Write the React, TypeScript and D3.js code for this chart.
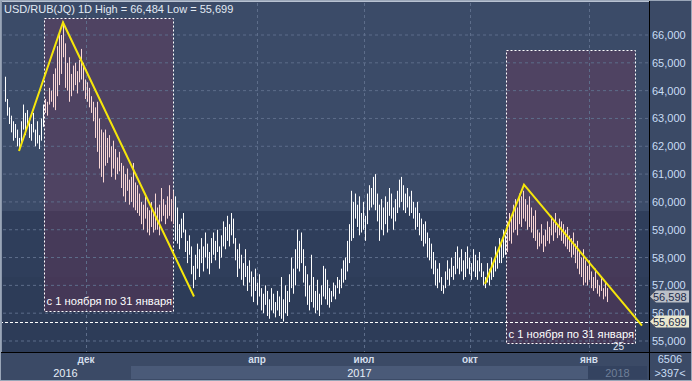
import React from "react";
import * as d3 from "d3";

const highs = [
  64.5, 63.7, 63.4, 63.1, 62.9, 62.8, 62.6, 62.3, 62.9, 63.5, 63.2, 63.3, 63.0, 62.8, 63.2, 62.6, 62.9, 62.4, 63.0, 63.5,
  63.7, 63.6, 64.1, 64.0, 64.6, 64.8, 65.6, 66.1, 66.0, 66.48, 65.7, 65.0, 65.2, 64.6, 64.9, 65.0, 64.7, 65.1, 65.5, 65.0,
  64.4, 64.3, 64.1, 63.8, 63.6, 63.4, 63.6, 63.0, 62.6, 62.5, 62.6, 62.3, 62.4, 62.0, 62.2, 61.9, 61.6, 61.8, 61.4, 61.3,
  61.0, 61.2, 60.8, 60.9, 61.4, 60.7, 60.6, 60.3, 60.0, 59.9, 60.2, 59.8, 59.7, 60.0, 59.6, 60.3, 59.8, 59.9, 60.5, 60.1,
  59.9, 60.2, 60.6, 60.1, 60.4, 60.2, 59.8, 59.2, 59.4, 59.6, 59.0, 58.6, 58.8, 58.4, 57.7, 58.1, 58.5, 58.3, 58.7, 58.4,
  58.9, 58.5, 58.2, 58.7, 58.9, 58.6, 59.0, 58.4, 58.8, 59.3, 59.1, 59.5, 59.2, 59.6, 59.4, 58.7, 58.3, 58.5, 58.1, 57.8,
  58.3, 57.7, 57.9, 57.5, 57.3, 57.6, 57.1, 57.4, 56.9, 56.7, 57.0, 56.8, 56.5, 56.9, 56.7, 56.4, 56.8, 56.6, 57.3, 56.5,
  57.0, 56.8, 57.4, 58.0, 57.6, 58.3, 59.0, 58.6, 58.9, 58.3, 57.7, 57.4, 57.0, 58.1, 57.3, 56.8, 57.2, 56.7, 57.0, 57.7,
  57.6, 57.2, 56.9, 56.8, 57.1, 57.0, 57.3, 57.2, 57.6, 57.9, 58.0, 58.6, 59.2, 60.4, 60.0, 60.3, 59.9, 60.2, 59.6, 60.0,
  59.5, 60.3, 60.6, 60.5, 60.9, 61.0, 60.3, 59.9, 60.1, 59.8, 60.2, 60.0, 60.5, 60.3, 59.8, 60.1, 60.4, 60.8, 60.9, 60.6,
  60.3, 60.5, 60.2, 60.4, 60.0, 59.8, 60.0, 59.6, 59.4, 59.2, 59.3, 58.9, 58.7, 58.5, 58.2, 57.9, 57.6, 57.8, 57.3, 57.0,
  57.5, 57.9, 57.6, 58.0, 57.7, 58.2, 58.4, 58.0, 58.3, 57.9, 58.2, 58.4, 58.0, 57.8, 58.3, 58.1, 57.9, 58.2, 57.8, 57.5,
  57.3, 57.8, 57.6, 58.0, 57.8, 58.4, 58.2, 58.7, 58.5, 59.0, 58.8, 59.3, 59.6, 59.4, 59.9, 60.1, 59.8, 60.3, 60.2, 60.4,
  60.1, 59.9, 60.2, 59.8, 59.5, 59.7, 59.0, 58.9, 59.2, 58.8, 59.0, 59.3, 59.1, 59.5, 59.3, 59.6, 59.2, 59.4, 59.3, 59.2,
  59.0, 59.1, 58.8, 58.7, 58.9, 58.5, 58.6, 58.2, 58.0, 58.3, 57.9, 57.7, 57.9, 57.5, 57.3, 57.6, 57.2, 57.0, 57.3, 56.9,
  57.1, 56.9,
];

const lows = [
  63.6, 63.1, 62.8, 62.5, 62.2, 62.3, 62.0, 61.85, 62.1, 62.6, 62.4, 62.7, 62.3, 62.2, 62.5, 62.0, 62.1, 61.9, 62.2, 62.7,
  63.2, 63.1, 63.5, 63.6, 63.4, 63.3, 63.8, 64.2, 64.6, 65.2, 64.1, 64.0, 63.6, 63.8, 64.0, 64.2, 63.9, 64.3, 64.4, 64.0,
  63.7, 63.6, 63.4, 63.2, 62.9, 62.3, 61.8, 61.2, 60.9, 60.7, 61.3, 61.4, 61.6, 60.9, 61.2, 60.8, 61.0, 61.1, 60.5, 60.2,
  60.0, 60.4, 59.9, 60.0, 59.8, 59.7, 59.6, 59.5, 59.2, 59.0, 59.4, 58.9, 58.8, 59.1, 58.9, 59.0, 59.0, 58.8, 59.3, 59.5,
  59.2, 59.4, 59.5, 59.3, 59.2, 58.6, 58.5, 58.3, 58.7, 58.9, 58.2, 57.8, 58.1, 57.4, 56.9, 57.2, 57.6, 57.3, 57.8, 57.5,
  58.0, 57.6, 57.4, 57.8, 58.1, 57.9, 58.2, 57.6, 58.0, 58.4, 58.3, 58.6, 58.4, 58.8, 58.5, 57.9, 57.3, 57.6, 57.2, 57.0,
  57.3, 56.8, 57.1, 56.6, 56.4, 56.8, 56.3, 56.6, 56.1, 56.0, 56.3, 55.9, 55.8, 56.1, 56.0, 55.85, 56.1, 55.9, 55.8, 55.7,
  56.0, 55.9, 56.4, 56.9, 56.7, 57.0, 57.6, 57.5, 57.8, 57.1, 56.6, 56.3, 56.1, 56.4, 56.2, 56.0, 56.1, 55.9, 56.3, 56.6,
  56.5, 56.3, 56.2, 56.4, 56.6, 56.5, 56.9, 56.7, 56.9, 57.1, 57.2, 57.5, 57.8, 58.6, 58.7, 59.4, 59.1, 58.8, 58.9, 59.0,
  58.6, 59.2, 59.7, 59.8, 59.9, 59.7, 59.3, 58.6, 59.0, 58.8, 59.2, 58.9, 59.5, 59.4, 59.0, 59.3, 59.6, 59.8, 60.0, 59.7,
  59.6, 59.8, 59.5, 59.6, 59.4, 59.0, 59.1, 58.8, 58.6, 58.4, 58.5, 58.0, 57.9, 57.6, 57.4, 57.0, 56.9, 57.1, 56.8, 56.7,
  56.9, 57.2, 57.0, 57.3, 57.2, 57.4, 57.6, 57.4, 57.5, 57.2, 57.3, 57.6, 57.4, 57.2, 57.5, 57.3, 57.2, 57.5, 57.3, 57.0,
  56.9, 57.1, 57.0, 57.2, 57.3, 57.5, 57.6, 57.8, 57.8, 58.0, 58.1, 58.2, 58.6, 58.5, 58.9, 59.0, 58.8, 59.2, 59.1, 59.4,
  59.3, 59.0, 59.1, 58.9, 58.7, 58.6, 58.3, 58.4, 58.5, 58.2, 58.4, 58.6, 58.5, 58.8, 58.6, 58.9, 58.7, 58.8, 58.6, 58.5,
  58.4, 58.3, 58.2, 58.0, 58.1, 57.8, 57.6, 57.4, 57.3, 57.0, 57.1, 57.0, 57.2, 56.9, 56.8, 56.9, 56.7, 56.6, 56.8, 56.5,
  56.6, 56.4,
];

const priceTicks = [55, 56, 57, 58, 59, 60, 61, 62, 63, 64, 65, 66];
const monthTicks = [
  { label: "дек", index: 40.5 },
  { label: "апр", index: 126 },
  { label: "июл", index: 179.5 },
  { label: "окт", index: 232.5 },
  { label: "янв", index: 292 },
];
const yearSpans = [
  { label: "2016", from: -2.5, to: 63, fill: "#3b4a66", color: "#e6eef8" },
  { label: "2017", from: 63, to: 291.5, fill: "#4a5a78", color: "#e6eef8" },
  { label: "2018", from: 291.5, to: 321, fill: "#344360", color: "#6f7f98" },
];
const boxes = [
  { from: 19.5, to: 84, top: 66.6, bottom: 56.05, label: "с 1 ноября по 31 января", labelPrice: 56.42 },
  { from: 250.5, to: 315, top: 65.45, bottom: 54.9, label: "с 1 ноября по 31 января", labelPrice: 55.25 },
];
const trend1 = [
  { index: 7, price: 61.83 },
  { index: 29, price: 66.45 },
  { index: 94.5, price: 56.6 },
];
const trend2 = [
  { index: 240, price: 57.05 },
  { index: 259.5, price: 60.62 },
  { index: 318.5, price: 55.55 },
];
const lastPrice = 56.598;
const lowPrice = 55.699;
const highPrice = 66.484;

const W = 692;
const H = 381;
const PLOT_R = 649;
const PLOT_B = 352;

const fmt = (v: number) => d3.format(".3f")(v).replace(".", ",");

export default function App() {
  const x = d3.scaleLinear().domain([0, highs.length - 1]).range([5, 5 + 2 * (highs.length - 1)]);
  const y = d3.scaleLinear().domain([55, 66]).range([341, 35]);
  const line = d3
    .line<{ index: number; price: number }>()
    .x((d) => x(d.index))
    .y((d) => y(d.price));

  const inBox = (i: number) => boxes.some((b) => i >= b.from && i <= b.to);

  return (
    <svg
      width={W}
      height={H}
      style={{ position: "absolute", left: 0, top: 0, fontFamily: "'Liberation Sans', Arial, sans-serif" }}
    >
      {/* backgrounds */}
      <rect x={0} y={0} width={W} height={H} fill="#3b4a66" />
      <rect x={2} y={3} width={PLOT_R - 2} height={208} fill="#3b4b68" />
      <rect x={2} y={211} width={PLOT_R - 2} height={66} fill="#2f3e5b" />
      <rect x={2} y={277} width={PLOT_R - 2} height={PLOT_B - 277} fill="#2d3c58" />

      {/* boxes */}
      {boxes.map((b, i) => (
        <rect
          key={"b" + i}
          x={x(b.from)}
          y={y(b.top)}
          width={x(b.to) - x(b.from)}
          height={y(b.bottom) - y(b.top)}
          fill="rgba(125,50,85,0.3)"
        />
      ))}

      {/* grid */}
      {priceTicks.map((p) => (
        <line key={"h" + p} x1={3} x2={PLOT_R} y1={y(p)} y2={y(p)} stroke="#5d6d8a" strokeDasharray="3,3" />
      ))}
      {monthTicks.map((m) => (
        <line
          key={"v" + m.label}
          x1={Math.round(x(m.index)) + 0.5}
          x2={Math.round(x(m.index)) + 0.5}
          y1={3}
          y2={PLOT_B}
          stroke="#5d6d8a"
          strokeDasharray="3,3"
        />
      ))}

      {/* box outlines */}
      {boxes.map((b, i) => (
        <rect
          key={"bo" + i}
          x={Math.round(x(b.from)) + 0.5}
          y={Math.round(y(b.top)) + 0.5}
          width={Math.round(x(b.to) - x(b.from))}
          height={Math.round(y(b.bottom) - y(b.top))}
          fill="none"
          stroke="#ffffff"
          strokeDasharray="2,2"
        />
      ))}

      {/* bars */}
      {highs.map((h, i) => (
        <rect
          key={"k" + i}
          x={x(i)}
          y={y(h)}
          width={1}
          height={Math.max(1, y(lows[i]) - y(h))}
          fill={inBox(i) ? "#f9d8d6" : "#ffffff"}
        />
      ))}

      {/* low dashed line */}
      <line x1={0} x2={PLOT_R} y1={Math.round(y(lowPrice)) + 0.5} y2={Math.round(y(lowPrice)) + 0.5} stroke="#ffffff" strokeDasharray="3,2" />

      {/* trend lines */}
      <path d={line(trend1) || ""} fill="none" stroke="#f5e60a" strokeWidth={2} />
      <path d={line(trend2) || ""} fill="none" stroke="#f5e60a" strokeWidth={2} />

      {/* box labels */}
      {boxes.map((b, i) => (
        <text key={"bl" + i} x={x(b.from) + 2.5} y={y(b.labelPrice) + 4} fill="#ffffff" fontSize={11.2}>
          {b.label}
        </text>
      ))}

      {/* title */}
      <text x={4} y={13} fill="#e2eaf4" fontSize={11}>
        {`USD/RUB(JQ) 1D High = ${fmt(highPrice)} Low = ${fmt(lowPrice)}`}
      </text>

      <text x={613} y={350} fill="#e2eaf4" fontSize={10}>25</text>

      {/* right axis */}
      <rect x={PLOT_R} y={0} width={W - PLOT_R} height={PLOT_B} fill="#3b4a66" />
      {priceTicks.map((p) => (
        <text key={"t" + p} x={652} y={y(p) + 4} fill="#c9ddf5" fontSize={11}>
          {fmt(p)}
        </text>
      ))}

      {/* price tags */}
      {[
        { v: lastPrice, fill: "#bcc0c8" },
        { v: lowPrice, fill: "#e9e7cf" },
      ].map((t, i) => {
        const yy = y(t.v);
        return (
          <g key={"pt" + i}>
            <path
              d={`M${PLOT_R + 1},${yy} L${PLOT_R + 7},${yy - 6} L${W - 3},${yy - 6} L${W - 3},${yy + 6} L${PLOT_R + 7},${yy + 6} Z`}
              fill={t.fill}
            />
            <text x={653} y={yy + 4} fill="#1d2b48" fontSize={11}>
              {fmt(t.v)}
            </text>
          </g>
        );
      })}

      {/* bottom time axis */}
      <rect x={0} y={PLOT_B} width={W} height={H - PLOT_B} fill="#3b4a66" />
      {yearSpans.map((s) => (
        <rect key={"ys" + s.label} x={x(s.from)} y={366} width={x(s.to) - x(s.from)} height={13} fill={s.fill} />
      ))}
      {monthTicks.map((m) => (
        <text
          key={"ml" + m.label}
          x={x(m.index)}
          y={363}
          fill="#d4deec"
          fontSize={10}
          fontWeight="bold"
          textAnchor="middle"
        >
          {m.label}
        </text>
      ))}
      {yearSpans.map((s) => (
        <text
          key={"yl" + s.label}
          x={(x(s.from) + x(s.to)) / 2}
          y={377}
          fill={s.color}
          fontSize={11}
          textAnchor="middle"
        >
          {s.label}
        </text>
      ))}
      <text x={670} y={363} fill="#c9ddf5" fontSize={11} textAnchor="middle">6506</text>
      <text x={670} y={377} fill="#c9ddf5" fontSize={11} textAnchor="middle">&gt;397&lt;</text>

      {/* separators & frame */}
      <line x1={0} x2={W} y1={PLOT_B + 0.5} y2={PLOT_B + 0.5} stroke="#000000" />
      <line x1={PLOT_R + 0.5} x2={PLOT_R + 0.5} y1={0} y2={H} stroke="#000000" />
      <rect x={0.5} y={0.5} width={W - 1} height={H - 1} fill="none" stroke="#9aa6b8" />
      <line x1={1} x2={PLOT_R} y1={1.5} y2={1.5} stroke="#b8c2d2" />
      <line x1={1.5} x2={1.5} y1={1} y2={PLOT_B} stroke="#8a96aa" />
    </svg>
  );
}
